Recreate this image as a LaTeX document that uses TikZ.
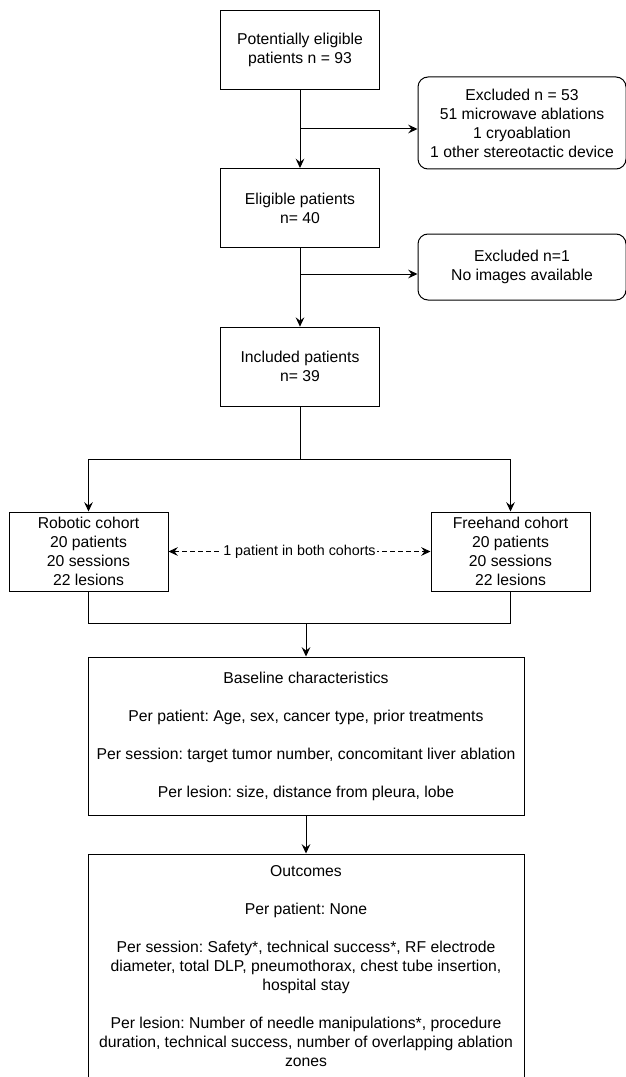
\documentclass[tikz,border=0pt]{standalone}
\usepackage{fontspec}
\setmainfont{Liberation Sans}
\frenchspacing
\usetikzlibrary{arrows.meta,positioning}

\begin{document}
\begin{tikzpicture}[x=0.75pt,y=-0.75pt,line width=0.75pt,
        every node/.style={font=\fontsize{11.8}{14.25}\selectfont,align=center,inner sep=0pt},
        box/.style={draw,minimum width=119.25pt,minimum height=59.25pt},
        exclbox/.style={draw,rounded corners=7.5pt,minimum width=156pt},
        widebox/.style={draw,minimum width=327pt},
        >={Stealth[length=7pt,width=6.5pt,inset=2.5pt]}]
        \useasboundingbox (0,0) rectangle (625,1077);

        \node[box] (potential) at (300,50) {Potentially eligible\\patients n = 93};
        \node[box] (eligible) [below=58.5pt of potential] {Eligible patients\\n= 40};
        \node[box] (included) [below=59pt of eligible] {Included patients\\n= 39};
        \node[exclbox,minimum height=69pt] (excl53) at (522,123)
                {Excluded n = 53\\51 microwave ablations\\1 cryoablation\\1 other stereotactic device};
        \node[exclbox,minimum height=49.5pt] (excl1) at (522,267) {Excluded n=1\\No images available};
        \node[box] (robotic) at (88.5,551.5) {Robotic cohort\\20 patients\\20 sessions\\22 lesions};
        \node[box] (freehand) at (510.5,551.5) {Freehand cohort\\20 patients\\20 sessions\\22 lesions};
        \node[widebox,minimum height=118.5pt] (baseline) at (306,736)
                {Baseline characteristics\\[14.25pt]
                Per patient: Age, sex, cancer type, prior treatments\\[14.25pt]
                Per session: target tumor number, concomitant liver ablation\\[14.25pt]
                Per lesion: size, distance from pleura, lobe};
        \node[widebox,minimum height=168.75pt] (outcomes) at (306,966.5)
                {Outcomes\\[14.25pt]
                Per patient: None\\[14.25pt]
                Per session: Safety*, technical success*, RF electrode\\
                diameter, total DLP, pneumothorax, chest tube insertion,\\
                hospital stay\\[14.25pt]
                Per lesion: Number of needle manipulations*, procedure\\
                duration, technical success, number of overlapping ablation\\
                zones};

        \coordinate (toexcl53) at (300,129);
        \coordinate (toexcl1) at (300,274);
        \coordinate (split) at (300,459);
        \coordinate (join) at (306,623);

        \draw [->] (potential) -- (eligible);
        \draw [->] (eligible) -- (included);
        \draw [->] (toexcl53) -- (toexcl53 -| excl53.west);
        \draw [->] (toexcl1) -- (toexcl1 -| excl1.west);
        \draw (included) -- (split);
        \draw [->] (split) -| (robotic);
        \draw [->] (split) -| (freehand);
        \draw [<->,dash pattern=on 3.5pt off 2.5pt] (robotic) -- (freehand)
                node[midway,fill=white,inner xsep=1pt,font=\fontsize{10.7}{12}\selectfont] {1 patient in both cohorts};
        \draw (robotic) |- (join);
        \draw (freehand) |- (join);
        \draw [->] (join) -- (baseline);
        \draw [->] (baseline) -- (outcomes);
\end{tikzpicture}
\end{document}
